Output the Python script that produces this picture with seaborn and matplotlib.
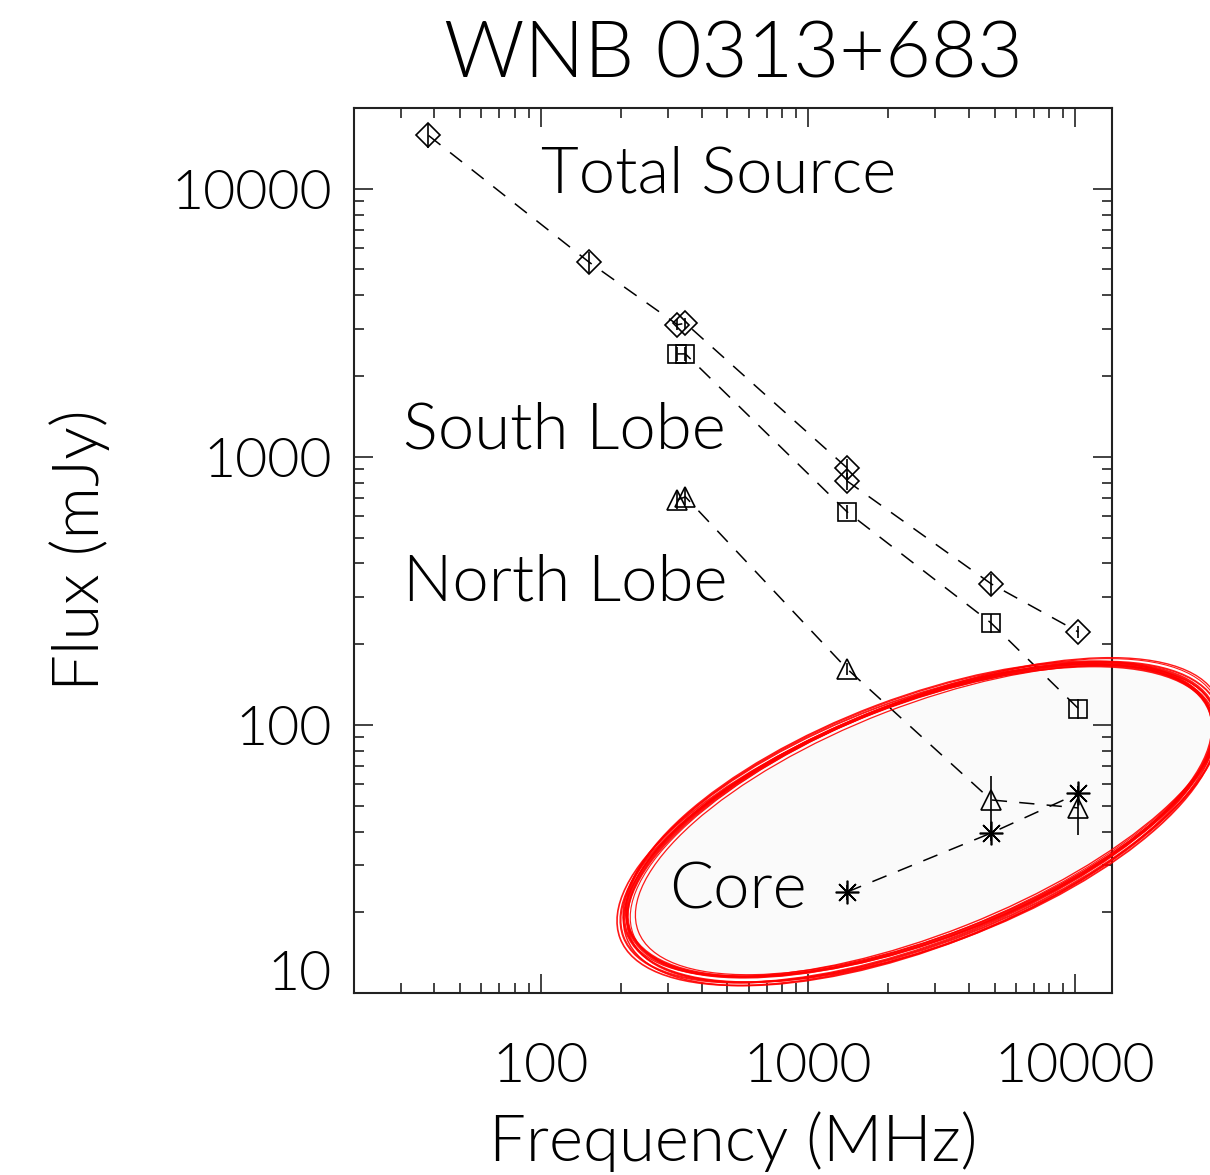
import numpy as np
import pandas as pd
import seaborn as sns
import matplotlib
matplotlib.use("Agg")
import matplotlib.pyplot as plt
from matplotlib.patches import Ellipse
from matplotlib.ticker import FixedLocator, FixedFormatter, LogLocator, NullFormatter

# Spectrum of WNB 0313+683: frequency (MHz), flux density (mJy), 1-sigma errors
freq_total = [38, 151, 325, 348, 1400, 1400, 4850, 10300]
flux_total = [15800, 5340, 3110, 3150, 910, 813, 336, 222]
err_total = [1600, 480, 150, 150, 75, 60, 30, 11]

freq_south = [325, 348, 1400, 4850, 10300]
flux_south = [2420, 2420, 624, 240, 115]
err_south = [150, 150, 38, 19, 10]

freq_north = [325, 348, 1400, 4850, 10300]
flux_north = [691, 709, 162, 52.5, 49]
err_north = [50, 50, 8, 12, 10]

freq_core = [1400, 4850, 10300]
flux_core = [23.8, 39.5, 55.6]
err_core = [1.5, 2.5, 3.5]

component_names = ["Total Source", "South Lobe", "North Lobe", "Core"]

x_ticks = [100, 1000, 10000]
x_ticklabels = ["100", "1000", "10000"]
y_ticks = [10, 100, 1000, 10000]
y_ticklabels = ["", "100", "1000", "10000"]

FW = 300  # light text weight

sns.set_style("white")
plt.rcParams["font.family"] = ["Lato", "DejaVu Sans"]
plt.rcParams["font.weight"] = FW
plt.rcParams["text.color"] = "black"
plt.rcParams["axes.labelcolor"] = "black"
plt.rcParams["xtick.color"] = "black"
plt.rcParams["ytick.color"] = "black"
for side in ["xtick.bottom", "xtick.top", "ytick.left", "ytick.right",
             "xtick.minor.bottom", "xtick.minor.top",
             "ytick.minor.left", "ytick.minor.right"]:
    plt.rcParams[side] = True

fig = plt.figure(figsize=(12.1, 11.75), dpi=100, facecolor="white")
ax = fig.add_axes([354 / 1210, 1 - 993 / 1175, 758 / 1210, 885 / 1175])
ax.set_facecolor("none")

series = [
    (freq_total, flux_total, err_total, "D", 12.0),
    (freq_south, flux_south, err_south, "s", 13.0),
    (freq_north, flux_north, err_north, "^", 14.0),
    (freq_core, flux_core, err_core, (8, 2, 0), 17.0),
]

for f, s, e, mk, ms in series:
    df = pd.DataFrame({"freq": f, "flux": s})
    sns.lineplot(data=df, x="freq", y="flux", ax=ax, estimator=None, sort=False,
                 errorbar=None, color="black", lw=1.1, linestyle=(0, (10, 8)),
                 marker=mk, markersize=ms, markerfacecolor="none",
                 markeredgecolor="black", markeredgewidth=1.2)
    ax.errorbar(f, s, yerr=e, fmt="none", ecolor="black", elinewidth=1.2, capsize=0)

ax.set_xscale("log")
ax.set_yscale("log")
ax.set_xlim(20, 13750)
ax.set_ylim(10, 20000)

ax.xaxis.set_major_locator(FixedLocator(x_ticks))
ax.xaxis.set_major_formatter(FixedFormatter(x_ticklabels))
ax.yaxis.set_major_locator(FixedLocator(y_ticks))
ax.yaxis.set_major_formatter(FixedFormatter(y_ticklabels))
ax.xaxis.set_minor_locator(LogLocator(base=10, subs=np.arange(2, 10), numticks=20))
ax.yaxis.set_minor_locator(LogLocator(base=10, subs=np.arange(2, 10), numticks=20))
ax.xaxis.set_minor_formatter(NullFormatter())
ax.yaxis.set_minor_formatter(NullFormatter())

ax.tick_params(which="both", direction="in", bottom=True, left=True,
               top=True, right=True, color="#222222", width=1.2)
ax.tick_params(which="major", length=14)
ax.tick_params(which="minor", length=7)
ax.tick_params(axis="x", which="major", labelsize=40, pad=35)
ax.tick_params(axis="y", which="major", labelsize=40, pad=16)
for sp in ax.spines.values():
    sp.set_linewidth(1.5)
    sp.set_color("#222222")

# lowest y label sits a little above its tick
ax.annotate("10", xy=(0, 10), xycoords=("axes fraction", "data"),
            xytext=(-22, 18), textcoords="offset pixels",
            ha="right", va="center", fontsize=40, color="black", fontweight=FW)

ax.set_xlabel("Frequency (MHz)", fontsize=47, labelpad=14, fontweight=FW)
ax.set_ylabel("Flux (mJy)", fontsize=47, labelpad=44, fontweight=FW)
ax.set_title("WNB 0313+683", fontsize=57, pad=22, fontweight=FW)

label_pos = [(0.2467, 0.905), (0.0646, 0.6158), (0.0646, 0.444), (0.4156, 0.096)]
for name, (tx, ty) in zip(component_names, label_pos):
    ax.text(tx, ty, name, transform=ax.transAxes, fontsize=47, fontweight=FW,
            ha="left", va="baseline", color="black")

# hand-drawn highlight around the core component
cx, cy, w, h, ang = 9.22, 3.55, 6.25, 2.36, 21.0
fill = Ellipse((cx, cy), w, h, angle=ang, transform=fig.dpi_scale_trans,
               facecolor="#fafafa", edgecolor="none", zorder=-1)
fig.patches.append(fill)
strokes = [(0.00, 0.00, 0.00, 0.00, 0.0, 2.2),
           (0.02, -0.02, 0.06, 0.04, 0.4, 1.4),
           (-0.03, 0.01, -0.05, 0.06, -0.3, 1.6),
           (0.01, 0.03, 0.10, -0.03, 0.6, 1.0),
           (-0.02, -0.03, 0.02, 0.10, -0.5, 1.3),
           (0.04, 0.00, -0.08, -0.06, 0.2, 0.9),
           (-0.05, -0.04, 0.04, 0.02, 0.1, 1.5),
           (-0.06, -0.06, 0.08, 0.06, -0.2, 1.2),
           (0.03, 0.02, 0.03, -0.02, 0.8, 0.8),
           (-0.04, -0.05, 0.00, 0.08, 0.3, 1.1)]
for dx, dy, dw, dh, da, lw in strokes:
    e = Ellipse((cx + dx, cy + dy), w + dw, h + dh, angle=ang + da,
                transform=fig.dpi_scale_trans, facecolor="none",
                edgecolor="#ff0000", lw=lw, alpha=0.9, zorder=5)
    fig.patches.append(e)

fig.savefig("out.png", dpi=100, facecolor="white")
